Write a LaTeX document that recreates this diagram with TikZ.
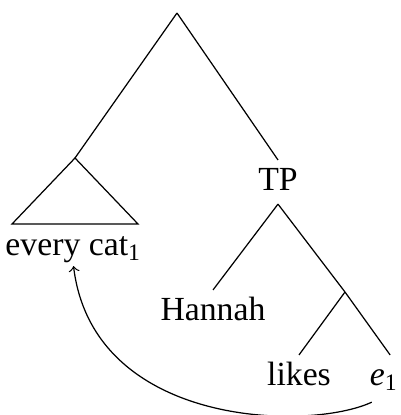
\documentclass[tikz,border=0pt]{standalone}
\usepackage{fontspec}
\setmainfont{Liberation Serif}
\usetikzlibrary{calc}
\begin{document}
\begin{tikzpicture}[x=0.326pt,y=-0.326pt,
  lbl/.style={inner sep=2.4pt,text height=7.2pt,text depth=2pt,anchor=base,font=\fontsize{11}{13}\selectfont},
  br/.style={line width=0.4pt},
  mv/.style={->,line width=0.4pt}]
\useasboundingbox (0,0) rectangle (401,415);
\coordinate (root) at (177,13);
\coordinate (dp) at (75,158);
\coordinate (bl) at (12,224);
\coordinate (brr) at (138,224);
\coordinate (vb) at (345,292);
\node[lbl] (cat) at (73.5,255) {every cat\textsubscript{1}};
\node[lbl] (TP) at (278,190) {TP};
\node[lbl] (hannah) at (213,320) {Hannah};
\node[lbl] (likes) at (299,385) {likes};
\node[lbl] (e1) at (384,385) {\textit{e}\textsubscript{1}};
\draw[br] (root) -- (dp);
\draw[br] (root) -- (TP.north);
\draw[br] (dp) -- (bl) -- (brr) -- cycle;
\draw[br] (TP.south) -- (hannah.north);
\draw[br] (TP.south) -- (vb);
\draw[br] (vb) -- (likes.north);
\draw[br] (vb) -- ([xshift=2pt]e1.north);
\draw[mv] ([xshift=-4pt,yshift=-1pt]e1.south) .. controls +(-62,29) and +(20,162) .. ([yshift=1pt]cat.south);
\end{tikzpicture}
\end{document}
